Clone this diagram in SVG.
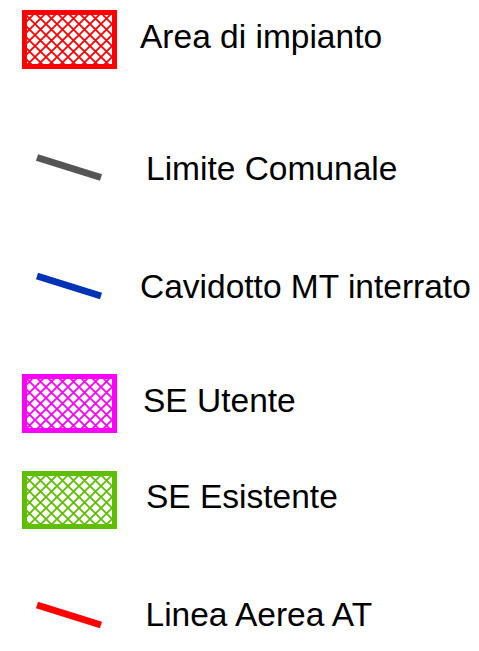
<svg xmlns="http://www.w3.org/2000/svg" width="479" height="651" viewBox="0 0 479 651">
<style>
text{font-family:"Liberation Sans",Arial,sans-serif;font-size:33.5px;fill:#000}
.sw{stroke-width:5}
.ln{stroke-width:7;stroke-linecap:butt}
</style>
<defs>
<pattern id="hr" patternUnits="userSpaceOnUse" x="2" y="2" width="11" height="11"><path d="M-1,-1 L12,12 M-1,12 L12,-1 M4.5,-6.5 L17.5,6.5 M-6.5,4.5 L6.5,17.5 M4.5,17.5 L17.5,4.5 M-6.5,6.5 L6.5,-6.5" stroke="#ff0000" stroke-width="1.8" fill="none"/></pattern>
<pattern id="hm" patternUnits="userSpaceOnUse" x="2" y="2" width="11" height="11"><path d="M-1,-1 L12,12 M-1,12 L12,-1 M4.5,-6.5 L17.5,6.5 M-6.5,4.5 L6.5,17.5 M4.5,17.5 L17.5,4.5 M-6.5,6.5 L6.5,-6.5" stroke="#ff00ff" stroke-width="1.8" fill="none"/></pattern>
<pattern id="hg" patternUnits="userSpaceOnUse" x="2" y="2" width="11" height="11"><path d="M-1,-1 L12,12 M-1,12 L12,-1 M4.5,-6.5 L17.5,6.5 M-6.5,4.5 L6.5,17.5 M4.5,17.5 L17.5,4.5 M-6.5,6.5 L6.5,-6.5" stroke="#5fbe00" stroke-width="1.8" fill="none"/></pattern>
</defs>
<rect width="479" height="651" fill="#fff"/>
<g id="area-impianto">
<rect x="24.5" y="12.5" width="90" height="54" fill="url(#hr)" stroke="#ff0000" class="sw"/>
<text x="140" y="48">Area di impianto</text>
</g>
<g id="limite-comunale">
<text x="146" y="180">Limite Comunale</text>
</g>
<g id="cavidotto">
<text x="140" y="298">Cavidotto MT interrato</text>
</g>
<g id="se-utente">
<rect x="24.5" y="376.5" width="90" height="54" fill="url(#hm)" stroke="#ff00ff" class="sw"/>
<text x="143" y="411.5">SE Utente</text>
</g>
<g id="se-esistente">
<rect x="24.5" y="473.5" width="90" height="53" fill="url(#hg)" stroke="#5fbe00" class="sw"/>
<text x="146" y="508">SE Esistente</text>
</g>
<g id="linea-aerea">
<text x="145.5" y="626">Linea Aerea AT</text>
</g>
<g id="connectors">
<line x1="37" y1="157.5" x2="101" y2="177.5" stroke="#555555" class="ln"/>
<line x1="37" y1="276" x2="101" y2="296" stroke="#0033b4" class="ln"/>
<line x1="37" y1="605" x2="101" y2="625" stroke="#ff0000" class="ln"/>
</g>
</svg>
